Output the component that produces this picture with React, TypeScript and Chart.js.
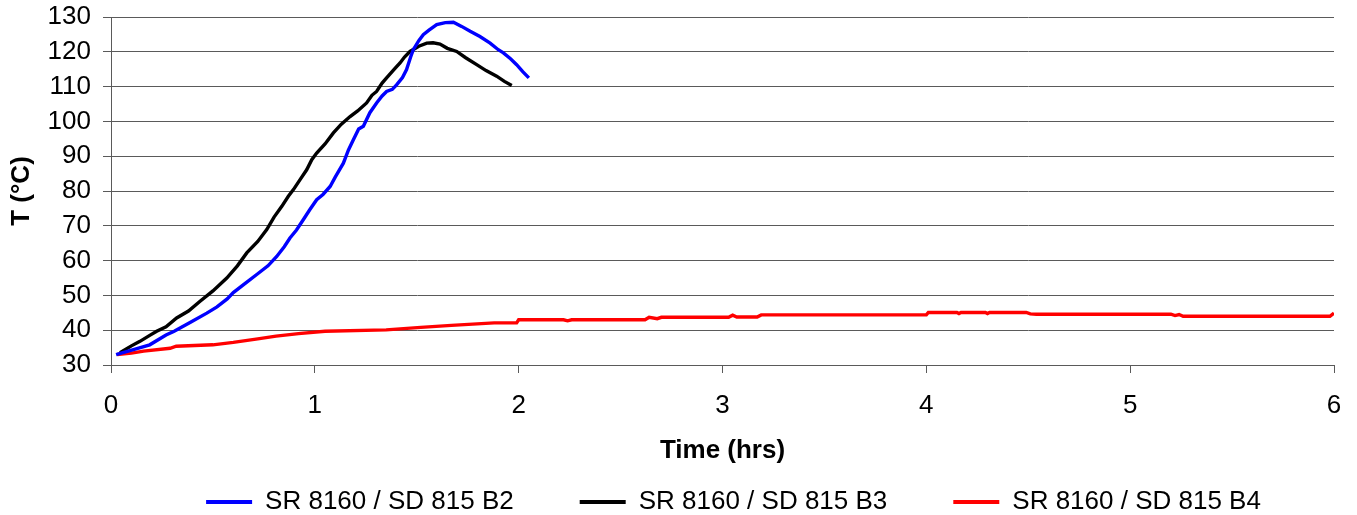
import React, { useEffect, useRef } from "react";
import { Chart, registerables } from "chart.js";

Chart.register(...registerables);

const seriesNames = ["SR 8160 / SD 815 B2", "SR 8160 / SD 815 B3", "SR 8160 / SD 815 B4"];
const seriesColors = ["#0000FF", "#000000", "#FF0000"];

const xTitle = "Time (hrs)";
const yTitle = "T (°C)";

const b2Time = [0.025, 0.11, 0.19, 0.27, 0.31, 0.39, 0.47, 0.52, 0.57, 0.6, 0.66, 0.715, 0.77, 0.813, 0.85, 0.878, 0.91, 0.944, 0.975, 1.009, 1.04, 1.075, 1.1, 1.14, 1.165, 1.189, 1.215, 1.238, 1.27, 1.303, 1.33, 1.352, 1.38, 1.401, 1.43, 1.45, 1.47, 1.483, 1.51, 1.532, 1.56, 1.598, 1.64, 1.68, 1.72, 1.762, 1.81, 1.86, 1.9, 1.925, 1.96, 1.99, 2.02, 2.05];
const b2Temp = [33, 34.4, 35.8, 38.6, 39.7, 42.3, 44.9, 46.7, 49, 50.8, 53.5, 56, 58.5, 61.2, 64, 66.5, 68.8, 71.8, 74.6, 77.5, 79, 81.3, 84, 88, 91.8, 94.7, 97.8, 98.6, 102.5, 105.3, 107.3, 108.6, 109.2, 110.5, 112.6, 114.9, 118.5, 120.6, 123.2, 124.9, 126.2, 127.8, 128.4, 128.5, 127.3, 125.9, 124.4, 122.5, 120.6, 119.7, 118, 116.3, 114.3, 112.5];

const b3Time = [0.044, 0.1, 0.142, 0.19, 0.224, 0.27, 0.322, 0.38, 0.437, 0.5, 0.568, 0.62, 0.666, 0.72, 0.764, 0.8, 0.838, 0.87, 0.895, 0.93, 0.96, 0.985, 1.009, 1.05, 1.091, 1.13, 1.173, 1.21, 1.254, 1.28, 1.303, 1.33, 1.352, 1.39, 1.418, 1.44, 1.467, 1.51, 1.549, 1.58, 1.614, 1.65, 1.696, 1.74, 1.794, 1.84, 1.892, 1.93, 1.966];
const b3Temp = [33.5, 35.5, 36.8, 38.5, 39.7, 41, 43.5, 45.5, 48.3, 51.3, 55, 58.5, 62.2, 65.5, 68.9, 72.5, 75.6, 78.5, 80.4, 83.5, 86.1, 89, 90.9, 93.5, 96.7, 99.2, 101.4, 103, 105.3, 107.5, 108.6, 111, 112.5, 115, 116.8, 118.5, 120.1, 121.6, 122.5, 122.6, 122.2, 121, 120.1, 118.3, 116.3, 114.6, 113, 111.5, 110.3];

const b4Time = [0.03, 0.1, 0.16, 0.29, 0.32, 0.5, 0.6, 0.72, 0.81, 0.92, 1.05, 1.35, 1.52, 1.67, 1.88, 1.99, 2.0, 2.22, 2.24, 2.26, 2.62, 2.64, 2.68, 2.7, 3.03, 3.05, 3.07, 3.17, 3.19, 4.0, 4.01, 4.15, 4.16, 4.17, 4.29, 4.3, 4.31, 4.49, 4.51, 4.54, 5.2, 5.22, 5.24, 5.26, 5.98, 6.0];
const b4Temp = [33, 33.4, 34.0, 34.8, 35.4, 35.8, 36.5, 37.5, 38.3, 39.0, 39.7, 40.1, 40.8, 41.4, 42.1, 42.1, 43.0, 43.0, 42.7, 43.0, 43.0, 43.7, 43.3, 43.7, 43.7, 44.3, 43.8, 43.8, 44.4, 44.4, 45.1, 45.1, 44.8, 45.1, 45.1, 44.8, 45.1, 45.1, 44.7, 44.6, 44.6, 44.2, 44.5, 44.0, 44.0, 44.9];

const xMin = 0;
const xMax = 6;
const xStep = 1;
const yMin = 30;
const yMax = 130;
const yStep = 10;

const FONT = "'Liberation Sans', Arial, Helvetica, sans-serif";
const GRID = "#5a5a5a";

function pairs(xs: number[], ys: number[]) {
  return xs.map((x, i) => ({ x, y: ys[i] }));
}

const legendShift = {
  id: "legendShift",
  afterLayout(chart: any) {
    const lg = chart.legend;
    if (lg) {
      lg.left += 11;
      lg.right += 11;
    }
  },
};

export default function App() {
  const canvasRef = useRef<HTMLCanvasElement | null>(null);

  useEffect(() => {
    const canvas = canvasRef.current;
    if (!canvas) return;
    Chart.defaults.font.family = FONT;
    Chart.defaults.color = "#000000";

    const series = [
      pairs(b2Time, b2Temp),
      pairs(b3Time, b3Temp),
      pairs(b4Time, b4Temp),
    ];

    const chart = new Chart(canvas, {
      type: "line",
      data: {
        datasets: series.map((d, i) => ({
          label: seriesNames[i],
          data: d,
          borderColor: seriesColors[i],
          backgroundColor: seriesColors[i],
          borderWidth: 3.4,
          pointRadius: 0,
          pointHoverRadius: 0,
          tension: 0,
          fill: false,
        })),
      },
      plugins: [legendShift],
      options: {
        responsive: false,
        animation: false,
        events: [],
        layout: { padding: { top: 17, left: 0, right: 23, bottom: -10 } },
        scales: {
          x: {
            type: "linear",
            min: xMin,
            max: xMax,
            afterFit: (s: any) => {
              s.height = 58;
              s.paddingLeft = 0;
              s.paddingRight = 0;
            },
            ticks: {
              stepSize: xStep,
              autoSkip: false,
              padding: 17,
              maxRotation: 0,
              font: { size: 26 },
              color: "#000000",
            },
            grid: {
              display: true,
              drawOnChartArea: false,
              drawTicks: true,
              tickLength: 8,
              color: GRID,
            },
            border: { display: true, color: GRID, width: 1 },
            title: {
              display: true,
              text: xTitle,
              font: { size: 26, weight: "bold" },
              color: "#000000",
              padding: { top: 0, bottom: -43 },
            },
          },
          y: {
            type: "linear",
            min: yMin,
            max: yMax,
            afterFit: (s: any) => {
              s.width = 111;
              s.paddingTop = 0;
              s.paddingBottom = 0;
            },
            ticks: {
              stepSize: yStep,
              autoSkip: false,
              padding: 12,
              font: { size: 26 },
              color: "#000000",
            },
            grid: {
              display: true,
              drawOnChartArea: true,
              drawTicks: true,
              tickLength: 8,
              color: GRID,
            },
            border: { display: true, color: GRID, width: 1 },
            title: {
              display: true,
              text: yTitle,
              font: { size: 26, weight: "bold" },
              color: "#000000",
              padding: { top: 6, bottom: 0 },
            },
          },
        },
        plugins: {
          legend: {
            display: true,
            position: "bottom",
            align: "center",
            fullSize: false,
            labels: {
              boxWidth: 46,
              boxHeight: 4,
              padding: 66,
              font: { size: 26 },
              color: "#000000",
              generateLabels: (c: any) =>
                Chart.defaults.plugins.legend.labels
                  .generateLabels(c)
                  .map((l: any) => ({ ...l, lineWidth: 0, fillStyle: l.strokeStyle })),
            },
          },
          tooltip: { enabled: false },
        },
      },
    });

    return () => {
      chart.destroy();
    };
  }, []);

  return (
    <div style={{ position: "absolute", left: 0, top: 0, width: 1357, height: 515, background: "#ffffff" }}>
      <canvas ref={canvasRef} width={1357} height={515} style={{ display: "block", width: 1357, height: 515 }} />
    </div>
  );
}
